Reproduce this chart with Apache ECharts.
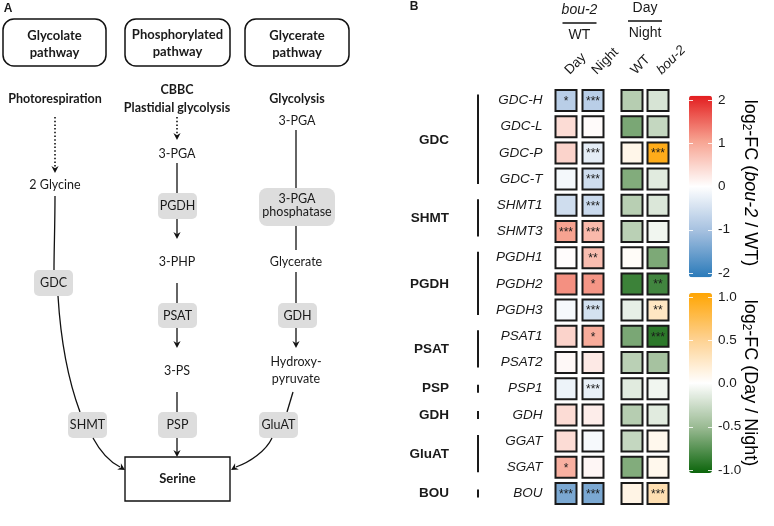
<!DOCTYPE html>
<html>
<head>
<meta charset="utf-8">
<script src="https://cdn.jsdelivr.net/npm/echarts@6/dist/echarts.min.js"></script>
<style>
  html, body { margin: 0; padding: 0; background: #fff; }
  #chart { width: 774px; height: 526px; }
</style>
</head>
<body>
<div id="chart"></div>
<script>
// genes (rows) and their enzyme groups
const genes = ['GDC-H', 'GDC-L', 'GDC-P', 'GDC-T', 'SHMT1', 'SHMT3', 'PGDH1', 'PGDH2', 'PGDH3',
  'PSAT1', 'PSAT2', 'PSP1', 'GDH', 'GGAT', 'SGAT', 'BOU']
const groupNames = ['GDC', 'SHMT', 'PGDH', 'PSAT', 'PSP', 'GDH', 'GluAT', 'BOU']
const groupSizes = [4, 2, 3, 2, 1, 1, 2, 1]

// columns
const ratioCols = ['Day', 'Night']
const diurnalCols = ['WT', 'bou-2']

// log2-FC bou-2 / WT
const fcMutDay = [-0.8, 0.4, 0.5, -0.12, -0.55, 1.05, 0.03, 1.2, -0.1, 0.5, 0.08, -0.2, 0.4, 0.4, 0.9, -1.4]
const fcMutNight = [-0.8, 0.05, -0.3, -0.55, -0.6, 0.8, 0.75, 1.15, -0.5, 0.95, 0.25, -0.25, 0.2, -0.1, 0.1, -1.4]
// log2-FC Day / Night
const fcDnWT = [-0.37, -0.63, 0.1, -0.6, -0.36, -0.35, 0.03, -0.86, -0.12, -0.63, -0.35, -0.15, -0.37, -0.3, -0.6, 0.12]
const fcDnBou = [-0.2, -0.3, 0.95, -0.15, -0.18, -0.07, -0.62, -0.84, 0.28, -0.92, -0.45, -0.07, -0.15, 0.08, 0.08, 0.35]

// significance marks
const sigMutDay = ['*', '', '', '', '', '***', '', '', '', '', '', '', '', '', '*', '***']
const sigMutNight = ['***', '', '***', '***', '***', '***', '**', '*', '***', '*', '', '***', '', '', '', '***']
const sigDnWT = ['', '', '', '', '', '', '', '', '', '', '', '', '', '', '', '']
const sigDnBou = ['', '', '***', '', '', '', '', '**', '**', '***', '', '', '', '', '', '***']

// colour bar ticks
const mutTicks = [-2, 2, 1]
const dnTicks = [-1, 1, 0.5]

const INK = '#1a1a1a'
const SANS = 'Liberation Sans'
const DIA = 'Lato'

const cells = (cols, sets) => {
  const out = []
  sets.forEach(([vals, sigs], c) => {
    vals.forEach((v, r) => out.push([c, r, v, sigs[r]]))
  })
  return out
}

const chart = echarts.init(document.getElementById('chart'), null, { renderer: 'canvas' })

const rowsTop = 87.4
const rowsH = 16 * 26.2

const catY = (gi, showLabel) => ({
  gridIndex: gi,
  type: 'category',
  data: genes,
  inverse: true,
  axisLine: { show: false },
  axisTick: { show: false },
  splitLine: { show: false },
  axisLabel: {
    show: showLabel,
    fontFamily: SANS,
    fontStyle: 'italic',
    fontSize: 13.5,
    color: INK,
    margin: 10,
  },
})

// column labels are drawn as rotated graphic texts at the axis positions
const catX = (gi, cols) => ({
  gridIndex: gi,
  type: 'category',
  data: cols,
  position: 'top',
  axisLine: { show: false },
  axisTick: { show: false },
  splitLine: { show: false },
  axisLabel: { show: false },
})

const barAxis = (gi, ticks, pos, labels, digits) => ({
  gridIndex: gi,
  type: 'value',
  min: ticks[0],
  max: ticks[1],
  interval: ticks[2],
  position: pos,
  z: 10,
  axisLine: { show: false },
  splitLine: { show: false },
  axisTick: { show: true, inside: true, length: 4, lineStyle: { color: 'rgba(255,255,255,0.85)', width: 1 } },
  axisLabel: {
    show: labels,
    margin: 6,
    fontFamily: SANS,
    fontSize: 13.5,
    color: INK,
    formatter: (v) => v.toFixed(digits),
  },
})

const cellSeries = (xi, data) => ({
  type: 'scatter',
  xAxisIndex: xi,
  yAxisIndex: xi,
  symbol: 'rect',
  symbolSize: 21,
  data,
  itemStyle: { borderColor: INK, borderWidth: 2, opacity: 1 },
  label: {
    show: true,
    position: 'inside',
    formatter: (p) => p.data[3],
    fontFamily: SANS,
    fontSize: 12,
    color: INK,
    offset: [0, 1],
  },
  emphasis: { disabled: true },
  silent: true,
})

chart.setOption({
  animation: false,
  backgroundColor: '#fff',
  textStyle: { fontFamily: SANS },
  grid: [
    { left: 552.5, top: rowsTop, width: 54, height: rowsH },
    { left: 619, top: rowsTop, width: 52, height: rowsH },
    { left: 689, top: 100, width: 23, height: 173 },
    { left: 689, top: 297, width: 23, height: 173 },
  ],
  xAxis: [
    catX(0, ratioCols),
    catX(1, diurnalCols),
    { gridIndex: 2, type: 'value', show: false },
    { gridIndex: 3, type: 'value', show: false },
  ],
  yAxis: [
    catY(0, true),
    catY(1, false),
    barAxis(2, mutTicks, 'left', false, 0),
    barAxis(2, mutTicks, 'right', true, 0),
    barAxis(3, dnTicks, 'left', false, 1),
    barAxis(3, dnTicks, 'right', true, 1),
  ],
  visualMap: [
    {
      type: 'continuous',
      seriesIndex: 0,
      dimension: 2,
      min: -2.1,
      max: 2.1,
      calculable: false,
      hoverLink: false,
      left: 689,
      top: 95.7,
      itemWidth: 23,
      itemHeight: 181.6,
      padding: 0,
      inRange: { color: ['#2a7ab9', '#a3bfdf', '#ffffff', '#f7a391', '#e31d1f'] },
    },
    {
      type: 'continuous',
      seriesIndex: 1,
      dimension: 2,
      min: -1.04,
      max: 1.04,
      calculable: false,
      hoverLink: false,
      left: 689,
      top: 293,
      itemWidth: 23,
      itemHeight: 180,
      padding: 0,
      inRange: { color: ['#0b650b', '#98b991', '#ffffff', '#fed08d', '#ffa502'] },
    },
  ],
  series: [
    cellSeries(0, cells(ratioCols, [[fcMutDay, sigMutDay], [fcMutNight, sigMutNight]])),
    cellSeries(1, cells(diurnalCols, [[fcDnWT, sigDnWT], [fcDnBou, sigDnBou]])),
  ],
})

// ---------- graphic helpers ----------
const txt = (x, y, s, size, bold, family, extra) => ({
  type: 'text',
  x,
  y,
  silent: true,
  style: Object.assign({
    text: s,
    fill: INK,
    font: `${bold ? 'bold ' : ''}${size}px "${family || DIA}"`,
    align: 'center',
    verticalAlign: 'middle',
  }, extra || {}),
})
const line = (x1, y1, x2, y2, dash) => ({
  type: 'line',
  silent: true,
  shape: { x1, y1, x2, y2 },
  style: { stroke: '#111', lineWidth: dash ? 1.6 : 1.3, lineDash: dash ? [1.5, 2.2] : null },
})
const curve = (x1, y1, cpx1, cpy1, cpx2, cpy2, x2, y2) => ({
  type: 'bezierCurve',
  silent: true,
  shape: { x1, y1, x2, y2, cpx1, cpy1, cpx2, cpy2 },
  style: { stroke: '#111', lineWidth: 1.3, fill: 'none' },
})
const head = (x, y, ang) => {
  const L = 7, W = 3.6
  const dx = Math.cos(ang), dy = Math.sin(ang)
  const nx = -dy, ny = dx
  return {
    type: 'polygon',
    silent: true,
    shape: {
      points: [
        [x, y],
        [x - L * dx + W * nx, y - L * dy + W * ny],
        [x - (L - 2.2) * dx, y - (L - 2.2) * dy],
        [x - L * dx - W * nx, y - L * dy - W * ny],
      ],
    },
    style: { fill: '#111' },
  }
}
const down = Math.PI / 2
const box = (x, y, w, h, r, fill, stroke, lw) => ({
  type: 'rect',
  silent: true,
  shape: { x, y, width: w, height: h, r },
  style: { fill, stroke: stroke || null, lineWidth: lw || 0 },
})
const enzyme = (x, y, w, h, label) => [box(x, y, w, h, 5, '#dddddd'), txt(x + w / 2, y + h / 2, label, 12.5)]

const els = []

// ---------- panel A ----------
els.push(txt(8, 9, 'A', 12, true, SANS))
els.push(box(3, 19, 103, 47, 11, '#fff', '#111', 1.5))
els.push(box(125, 19, 105, 47, 11, '#fff', '#111', 1.5))
els.push(box(245, 19, 104, 47, 11, '#fff', '#111', 1.5))
els.push(txt(54.5, 36, 'Glycolate', 13, true), txt(54.5, 53, 'pathway', 13, true))
els.push(txt(177.5, 35, 'Phosphorylated', 13, true), txt(177.5, 52, 'pathway', 13, true))
els.push(txt(297, 36, 'Glycerate', 13, true), txt(297, 53, 'pathway', 13, true))

els.push(txt(55, 99, 'Photorespiration', 12.5, true))
els.push(txt(177, 90, 'CBBC', 12.5, true), txt(177, 108, 'Plastidial glycolysis', 12.5, true))
els.push(txt(297, 99, 'Glycolysis', 12.5, true))

// glycolate route
els.push(line(55, 117, 55, 167, true), head(55, 173, down))
els.push(txt(55, 185, '2 Glycine', 12.5))
els.push(curve(55, 196, 55, 225, 54, 250, 54, 270))
els.push(...enzyme(34, 270, 39, 26, 'GDC'))
els.push(curve(58, 296, 61, 345, 70, 385, 80, 412))
els.push(...enzyme(68, 412, 39, 26, 'SHMT'))
els.push(curve(93, 438, 100, 451, 110, 462, 120, 467), head(125, 470, 0.55))

// phosphorylated route
els.push(line(177, 117, 177, 134, true), head(177, 140, down))
els.push(txt(177, 154, '3-PGA', 12.5))
els.push(line(177, 163, 177, 193))
els.push(...enzyme(158, 193, 39, 26, 'PGDH'))
els.push(line(177, 219, 177, 234), head(177, 239, down))
els.push(txt(177, 262, '3-PHP', 12.5))
els.push(line(177, 283, 177, 303))
els.push(...enzyme(158, 303, 39, 25, 'PSAT'))
els.push(line(177, 328, 177, 343), head(177, 348, down))
els.push(txt(177, 371, '3-PS', 12.5))
els.push(line(177, 392, 177, 412))
els.push(...enzyme(158, 412, 39, 26, 'PSP'))
els.push(line(177, 438, 177, 452), head(177, 457, down))

// glycerate route
els.push(txt(297, 121, '3-PGA', 12.5))
els.push(line(296, 130, 296, 188))
els.push(box(259, 188, 76, 38, 8, '#dddddd'))
els.push(txt(297, 198.5, '3-PGA', 12.5), txt(297, 211.5, 'phosphatase', 12.5))
els.push(line(296, 226, 296, 250))
els.push(txt(296, 262, 'Glycerate', 12.5))
els.push(line(296, 272, 296, 303))
els.push(...enzyme(278, 303, 39, 25, 'GDH'))
els.push(line(296, 328, 296, 343), head(296, 348, down))
els.push(txt(296, 362, 'Hydroxy-', 12.5), txt(296, 379, 'pyruvate', 12.5))
els.push(line(293, 392, 287, 412))
els.push(...enzyme(259, 412, 39, 26, 'GluAT'))
els.push(curve(272, 438, 266, 451, 250, 462, 236, 467), head(231, 470, Math.PI - 0.55))

// serine
els.push(box(125, 457, 105, 44, 0, '#fff', '#111', 1.4))
els.push(txt(177.5, 479, 'Serine', 13, true))

// ---------- panel B ----------
els.push(txt(414, 7, 'B', 12, true, SANS))
const hdr = (cx, top, bottom, italicTop, y0) => {
  const t = txt(cx, y0, top, 14, false, SANS, italicTop ? { font: `italic 14px "${SANS}"` } : null)
  return [t, line(cx - 17, y0 + 13, cx + 17, y0 + 13), txt(cx, y0 + 25.5, bottom, 14, false, SANS)]
}
const colX = (ai, i) => chart.convertToPixel({ xAxisIndex: ai }, i)
els.push(...hdr((colX(0, 0) + colX(0, 1)) / 2, 'bou-2', 'WT', true, 10))
els.push(...hdr((colX(1, 0) + colX(1, 1)) / 2, 'Day', 'Night', false, 8))

// rotated column labels
const colLabel = (ai, i, s) => txt(colX(ai, i) + 1, rowsTop - 15, s, 13.5, false, SANS, {
  align: 'left',
  font: `${s === 'bou-2' ? 'italic ' : ''}13.5px "${SANS}"`,
})
ratioCols.forEach((c, i) => els.push(Object.assign(colLabel(0, i, c), { rotation: Math.PI / 4 })))
diurnalCols.forEach((c, i) => els.push(Object.assign(colLabel(1, i, c), { rotation: Math.PI / 4 })))

let start = 0
groupNames.forEach((g, i) => {
  const n = groupSizes[i]
  const y1 = chart.convertToPixel({ yAxisIndex: 0 }, start)
  const y2 = chart.convertToPixel({ yAxisIndex: 0 }, start + n - 1)
  const a = n > 1 ? y1 - 6 : y1 - 4
  const b = n > 1 ? y2 + 5 : y2 + 4
  els.push({ type: 'rect', silent: true, shape: { x: 477, y: a, width: 2, height: b - a }, style: { fill: INK } })
  els.push(txt(449, (y1 + y2) / 2, g, 13.5, true, SANS, { align: 'right' }))
  start += n
})

// colour bar titles
const rich = {
  a: { fontFamily: SANS, fontSize: 18, color: INK, lineHeight: 20 },
  i: { fontFamily: SANS, fontSize: 18, fontStyle: 'italic', color: INK, lineHeight: 20 },
  s: { fontFamily: SANS, fontSize: 12, color: INK, lineHeight: 20, verticalAlign: 'bottom' },
}
els.push({
  type: 'text', silent: true, x: 750, y: 183, rotation: -Math.PI / 2,
  style: { text: '{a|log}{s|2}{a|-FC (}{i|bou-2}{a| / WT)}', rich, align: 'center', verticalAlign: 'middle' },
})
els.push({
  type: 'text', silent: true, x: 750, y: 383, rotation: -Math.PI / 2,
  style: { text: '{a|log}{s|2}{a|-FC (Day / Night)}', rich, align: 'center', verticalAlign: 'middle' },
})

chart.setOption({ graphic: { elements: els } })
</script>
</body>
</html>
